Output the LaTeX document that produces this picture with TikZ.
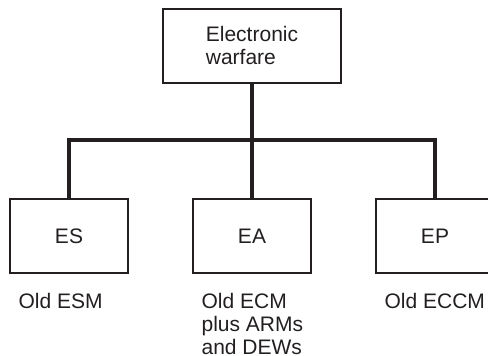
\documentclass[tikz,border=0pt]{standalone}
\usepackage{fontspec}
\setmainfont{Liberation Sans}
\usepackage{xcolor}
\usepackage{tikz}
\usetikzlibrary{positioning}
\definecolor{ink}{HTML}{231F20}
\tikzset{
  box/.style={draw=ink, line width=0.8pt, text=ink, minimum width=59pt, minimum height=37pt, inner sep=0pt, font=\fontsize{10.5}{11.5}\selectfont},
  stem/.style={draw=ink, line width=2pt, line join=miter},
  lbl/.style={text=ink, inner sep=0pt, align=left, anchor=north west, font=\fontsize{10.5}{11.5}\selectfont}
}

\begin{document}
\begin{tikzpicture}[x=0.5pt, y=-0.5pt]
\useasboundingbox (0,0) rectangle (488,356);
% top box
\node[box, minimum width=89pt, align=left] (ew) at (252,46) {Electronic\\warfare};
% three branches
\node[box] (es) at (69,236) {ES};
\node[box] (ea) at (252,236) {EA};
\node[box] (ep) at (435,236) {EP};
% tree lines
\draw[stem] (ew.south) -- (ea.north);
\draw[stem] (es.north) -- ++(0,-58) -| (ep.north);
% notes under the boxes
\node[lbl, below right=9.5pt and 4.5pt of es.south west] (esnote) {Old ESM};
\node[lbl, below right=9.5pt and 4.5pt of ea.south west] (eanote) {Old ECM\\plus ARMs\\and DEWs};
\node[lbl, below right=9.5pt and 4.5pt of ep.south west] (epnote) {Old ECCM};
\end{tikzpicture}
\end{document}
